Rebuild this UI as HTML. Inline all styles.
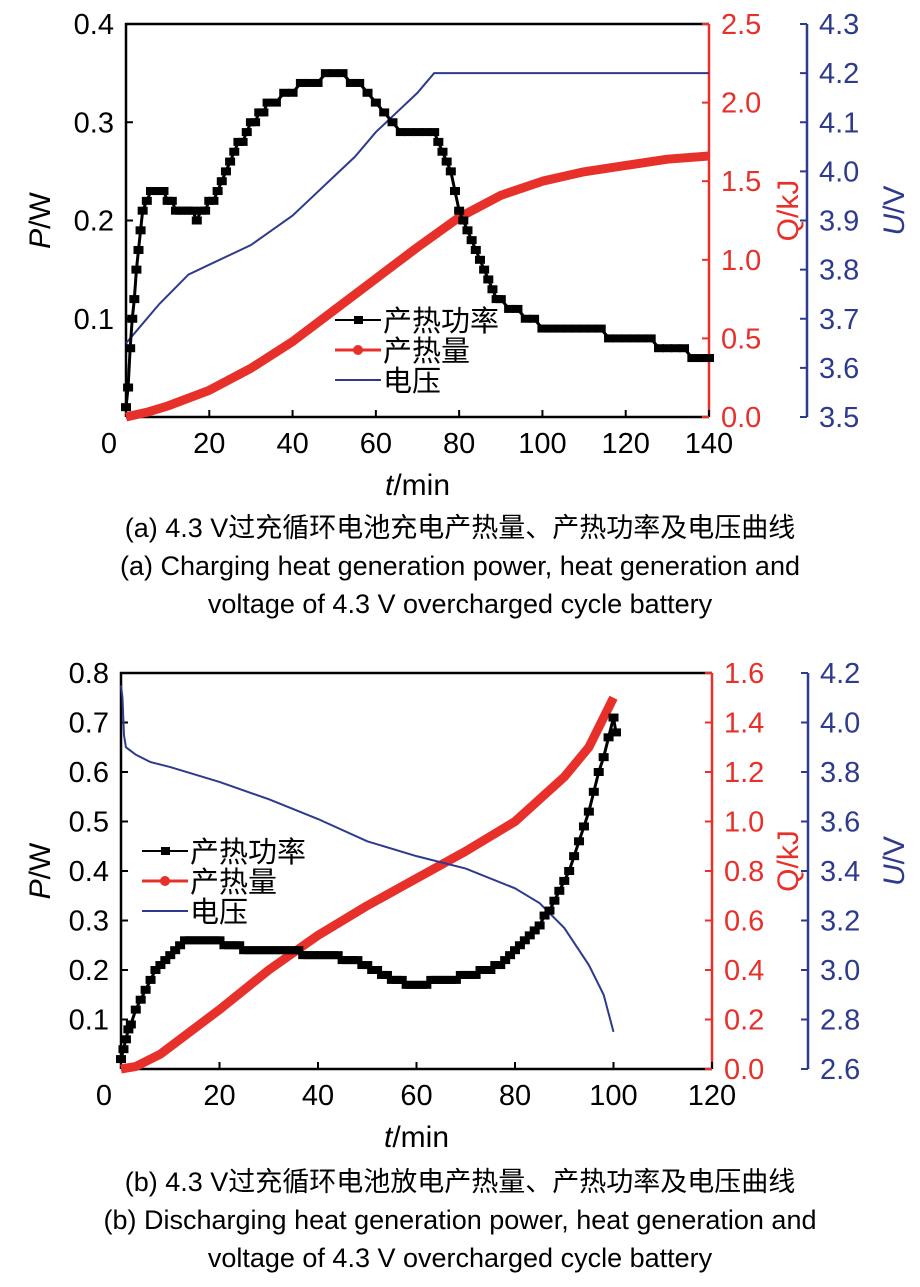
<!DOCTYPE html>
<html><head><meta charset="utf-8"><style>
body{margin:0;background:#fff}
svg text{font-family:"Liberation Sans","Noto Sans CJK SC",sans-serif}
</style></head><body>
<svg id="s" width="920" height="1282" viewBox="0 0 920 1282">
<text x="460" y="537" font-size="27" text-anchor="middle">(a) 4.3 V过充循环电池充电产热量、产热功率及电压曲线</text>
<text x="460" y="575" font-size="27" text-anchor="middle">(a) Charging heat generation power, heat generation and</text>
<text x="460" y="613" font-size="27" text-anchor="middle">voltage of 4.3 V overcharged cycle battery</text>
<text x="460" y="1191" font-size="27" text-anchor="middle">(b) 4.3 V过充循环电池放电产热量、产热功率及电压曲线</text>
<text x="460" y="1229" font-size="27" text-anchor="middle">(b) Discharging heat generation power, heat generation and</text>
<text x="460" y="1267" font-size="27" text-anchor="middle">voltage of 4.3 V overcharged cycle battery</text>
</svg>
<script>
// Chart A data
const aPt=[0,0.5,1,1.5,2,2.5,3,3.5,4,5,6,7,8,9,10,11,12,13,14,15,16,17,18,19,20,21,22,23,24,25,26,27,28,29,30,31,32,33,34,36,38,40,42,44,46,48,50,52,54,56,58,60,62,64,66,68,70,72,74,75,76,77,78,79,80,81,82,83,84,85,86,87,88,89,90,92,94,96,98,100,102,104,106,108,110,112,114,116,118,120,122,124,126,128,130,132,134,136,138,140];
const aPv=[0.01,0.03,0.07,0.1,0.12,0.15,0.17,0.19,0.21,0.22,0.23,0.23,0.23,0.23,0.22,0.22,0.21,0.21,0.21,0.21,0.21,0.20,0.21,0.21,0.22,0.22,0.23,0.24,0.25,0.26,0.27,0.28,0.28,0.29,0.30,0.30,0.31,0.31,0.32,0.32,0.33,0.33,0.34,0.34,0.34,0.35,0.35,0.35,0.34,0.34,0.33,0.32,0.31,0.30,0.29,0.29,0.29,0.29,0.29,0.28,0.27,0.26,0.25,0.23,0.21,0.20,0.19,0.18,0.17,0.16,0.15,0.14,0.13,0.12,0.12,0.11,0.11,0.10,0.10,0.09,0.09,0.09,0.09,0.09,0.09,0.09,0.09,0.08,0.08,0.08,0.08,0.08,0.08,0.07,0.07,0.07,0.07,0.06,0.06,0.06,0.05];
const aQt=[0,5,10,20,30,40,50,60,70,80,90,100,110,120,130,140];
const aQv=[0,0.03,0.07,0.17,0.31,0.48,0.68,0.88,1.08,1.27,1.41,1.5,1.56,1.6,1.64,1.66];
const aUt=[0,3,8,15,20,25,30,35,40,45,50,55,60,65,70,72,74,80,90,100,110,120,130,140];
const aUv=[3.65,3.68,3.73,3.79,3.81,3.83,3.85,3.88,3.91,3.95,3.99,4.03,4.08,4.12,4.16,4.18,4.2,4.2,4.2,4.2,4.2,4.2,4.2,4.2];
const aXTicks=[0,20,40,60,80,100,120,140];
const aPTicks=[0.1,0.2,0.3,0.4];
const aQTicks=[0,0.5,1,1.5,2,2.5];
const aUTicks=[3.5,3.6,3.7,3.8,3.9,4.0,4.1,4.2,4.3];
// Chart B data
const bPt=[0,0.5,1,1.5,2,3,4,5,6,7,8,9,10,11,12,13,14,15,16,17,18,19,20,21,22,23,24,25,26,27,28,29,30,31,32,33,34,35,36,37,38,39,40,41,42,43,44,45,46,47,48,49,50,51,52,53,54,55,56,57,58,59,60,61,62,63,64,65,66,67,68,69,70,71,72,73,74,75,76,77,78,79,80,81,82,83,84,85,86,87,88,89,90,91,92,93,94,95,96,97,98,99,100,100.5];
const bPv=[0.02,0.04,0.06,0.08,0.09,0.12,0.14,0.16,0.18,0.2,0.21,0.22,0.23,0.24,0.25,0.26,0.26,0.26,0.26,0.26,0.26,0.26,0.26,0.25,0.25,0.25,0.25,0.24,0.24,0.24,0.24,0.24,0.24,0.24,0.24,0.24,0.24,0.24,0.24,0.23,0.23,0.23,0.23,0.23,0.23,0.23,0.23,0.22,0.22,0.22,0.22,0.21,0.21,0.2,0.2,0.19,0.19,0.18,0.18,0.18,0.17,0.17,0.17,0.17,0.17,0.18,0.18,0.18,0.18,0.18,0.18,0.19,0.19,0.19,0.19,0.2,0.2,0.2,0.21,0.21,0.22,0.23,0.24,0.25,0.26,0.27,0.28,0.29,0.31,0.32,0.34,0.36,0.38,0.4,0.43,0.46,0.49,0.52,0.56,0.6,0.63,0.67,0.71,0.68];
const bQt=[0,3,8,20,30,40,50,60,70,80,90,95,100];
const bQv=[0,0.01,0.06,0.24,0.4,0.54,0.66,0.77,0.88,1.0,1.18,1.3,1.5];
const bUt=[0,0.3,0.6,1,3,6,10,20,30,40,50,60,70,80,85,90,95,98,100];
const bUv=[4.15,4.1,3.95,3.9,3.87,3.84,3.82,3.76,3.69,3.61,3.52,3.46,3.41,3.33,3.27,3.17,3.02,2.9,2.75];
const bXTicks=[0,20,40,60,80,100,120];
const bPTicks=[0.1,0.2,0.3,0.4,0.5,0.6,0.7,0.8];
const bQTicks=[0,0.2,0.4,0.6,0.8,1.0,1.2,1.4,1.6];
const bUTicks=[2.6,2.8,3.0,3.2,3.4,3.6,3.8,4.0,4.2];

const NS='http://www.w3.org/2000/svg';
const svg=document.getElementById('s');
function mk(tag,attrs,parent){const e=document.createElementNS(NS,tag);for(const k in attrs)e.setAttribute(k,attrs[k]);(parent||svg).appendChild(e);return e;}
function lin(d0,d1,r0,r1){return v=>r0+(v-d0)/(d1-d0)*(r1-r0);}
const RED='#e8302a',BLUE='#2e3a8c';
const FS=29;

function chart(c){
  const g=mk('g',{});
  
  
  const X=lin(0,c.xmax,c.L,c.R),YP=lin(0,c.pmax,c.B,c.T),YQ=lin(0,c.qmax,c.B,c.T),YU=lin(c.umin,c.umax,c.B,c.T);
  const ax=mk('path',{d:`M${c.L},${c.B}V${c.T}H${c.R}M${c.L},${c.B}H${c.R}`,stroke:'#000','stroke-width':2.5,fill:'none'},g);
  
  
  const qa=mk('line',{x1:c.R,x2:c.R,y1:c.T,y2:c.B,stroke:RED,'stroke-width':2.5},g);
  
  
  const ua=mk('line',{x1:c.UX,x2:c.UX,y1:c.T,y2:c.B,stroke:BLUE,'stroke-width':2.5},g);
  
  
  c.xt.forEach(v=>{const x=X(v);mk('line',{x1:x,x2:x,y1:c.B,y2:c.B-7,stroke:'#000','stroke-width':2},g);
    const t=mk('text',{x:v===0?x-17:x,y:c.B+36,'font-size':FS,'text-anchor':'middle'},g);t.textContent=v;
    
    });
  c.pt.forEach(v=>{const y=YP(v);mk('line',{x1:c.L,x2:c.L+7,y1:y,y2:y,stroke:'#000','stroke-width':2},g);
    const t=mk('text',{x:c.L-12,y:y+10,'font-size':FS,'text-anchor':'end'},g);t.textContent=v.toFixed(1);
    
    });
  c.qt.forEach(v=>{const y=YQ(v);mk('line',{x1:c.R,x2:c.R-7,y1:y,y2:y,stroke:RED,'stroke-width':2},g);
    const t=mk('text',{x:c.R+12,y:y+10,'font-size':FS,fill:RED},g);t.textContent=v.toFixed(1);
    
    });
  c.ut.forEach(v=>{const y=YU(v);mk('line',{x1:c.UX,x2:c.UX-7,y1:y,y2:y,stroke:BLUE,'stroke-width':2},g);
    const t=mk('text',{x:c.UX+12,y:y+10,'font-size':FS,fill:BLUE},g);t.textContent=v.toFixed(1);
    
    });
  const q=mk('polyline',{points:c.qT.map((t,i)=>X(t)+','+YQ(c.qV[i])).join(' '),fill:'none',stroke:RED,'stroke-width':9,'stroke-linejoin':'round'},g);
  
  
  const u=mk('polyline',{points:c.uT.map((t,i)=>X(t)+','+YU(c.uV[i])).join(' '),fill:'none',stroke:BLUE,'stroke-width':2},g);
  
  
  const pl=mk('polyline',{points:c.pT.map((t,i)=>X(t)+','+YP(c.pV[i])).join(' '),fill:'none',stroke:'#000','stroke-width':3},g);
  
  
  c.pT.forEach((t,i)=>{const r=mk('rect',{x:X(t)-5,y:YP(c.pV[i])-4,width:10,height:8,fill:'#000'},g);
    
    });
  const tt=(txt,x,y,col,rot,name)=>{const t=mk('text',{x:x,y:y,'font-size':30,fill:col,'text-anchor':'middle',transform:rot?`rotate(-90 ${x} ${y})`:''},g);t.innerHTML=txt;
    
    };
  tt('<tspan font-style="italic">P</tspan>/W',50,(c.T+c.B)/2,'#000',1,'p-axis-title');
  tt('Q/kJ',798,(c.T+c.B)/2-10,RED,1,'q-axis-title');
  tt('<tspan font-style="italic">U</tspan>/V',904,(c.T+c.B)/2-10,BLUE,1,'u-axis-title');
  tt('<tspan font-style="italic">t</tspan>/min',(c.L+c.R)/2,c.B+78,'#000',0,'x-axis-title');
  const lg=mk('g',{},g);
  
  
  const items=[['产热功率','#000'],['产热量',RED],['电压',BLUE]];
  items.forEach((it,i)=>{const y=c.ly+i*30;
    mk('line',{x1:c.lx,x2:c.lx+46,y1:y,y2:y,stroke:it[1],'stroke-width':i===1?3:2},lg);
    if(i===0)mk('rect',{x:c.lx+19,y:y-4,width:9,height:8,fill:'#000'},lg);
    if(i===1)mk('circle',{cx:c.lx+23,cy:y,r:5,fill:RED},lg);
    const t=mk('text',{x:c.lx+48,y:y+11,'font-size':29},lg);t.textContent=it[0];
    
    });
}
chart({name:'chart-a',L:126,R:709,T:24,B:417,UX:807,xmax:140,pmax:0.4,qmax:2.5,umin:3.5,umax:4.3,
  xt:aXTicks,pt:aPTicks,qt:aQTicks,ut:aUTicks,pT:aPt,pV:aPv,qT:aQt,qV:aQv,uT:aUt,uV:aUv,lx:335,ly:320});
chart({name:'chart-b',L:121,R:712,T:673,B:1069,UX:808,xmax:120,pmax:0.8,qmax:1.6,umin:2.6,umax:4.2,
  xt:bXTicks,pt:bPTicks,qt:bQTicks,ut:bUTicks,pT:bPt,pV:bPv,qT:bQt,qV:bQv,uT:bUt,uV:bUv,lx:142,ly:851});
</script>
</body></html>
